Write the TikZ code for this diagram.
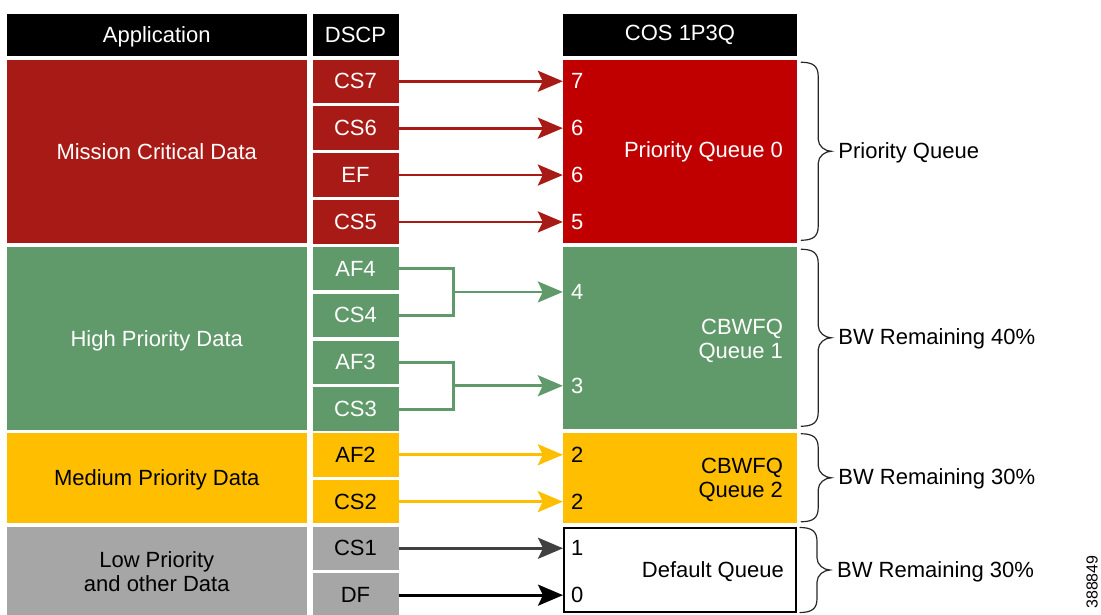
\documentclass[tikz,border=0pt]{standalone}
\usepackage{fontspec}
\setmainfont{Liberation Sans}
\usepackage{xcolor}
\usetikzlibrary{arrows.meta,positioning,calc}

\definecolor{AppRed}{RGB}{168,26,22}
\definecolor{QueueRed}{RGB}{192,0,0}
\definecolor{PrioGreen}{RGB}{96,153,106}
\definecolor{MedYellow}{RGB}{255,191,0}
\definecolor{LowGrey}{RGB}{166,166,166}
\definecolor{ArrowGrey}{RGB}{64,64,64}

\tikzset{
  base/.style={
    inner sep=0pt,
    align=center,
    font=\fontsize{22}{24}\selectfont
  },
  header/.style={
    base,
    fill=black,
    text=white,
    minimum height=42.5pt
  },
  appbox/.style={
    base,
    minimum width=300.5pt
  },
  cell/.style={
    base,
    minimum width=86pt,
    minimum height=43.5pt
  },
  queue/.style={
    base,
    minimum width=234pt
  },
  numlabel/.style={
    base,
    anchor=west,
    inner xsep=8pt
  },
  qname/.style={
    base,
    align=right,
    anchor=east
  },
  bracelabel/.style={base, anchor=west, yshift=-1.5pt},
  flow/.style={-{Stealth[length=25pt,width=21pt,inset=5pt]}, line width=2.8pt},
  bracket/.style={line width=2.8pt},
  pics/qbrace/.style={code={
    \draw[line width=1.2pt, line cap=round, draw=black!85]
      (0,#1) .. controls (12,#1) and (17,#1-4) .. (17,#1-14)
      -- (17,12) .. controls (17,5) and (24,0) .. (30,0)
      .. controls (24,0) and (17,-5) .. (17,-12)
      -- (17,14-#1) .. controls (17,4-#1) and (12,-#1) .. (0,-#1);
    \coordinate (-tip) at (30,0);
  }}
}

\begin{document}
\begin{tikzpicture}[x=1pt,y=1pt,node distance=3pt]
\useasboundingbox (0,0) rectangle (1101,-614);

% headers
\node[header, text depth=0pt, minimum width=300.5pt] (apphead) at (156.75,-34.75) {Application};
\node[header, minimum width=86pt] (dscphead) at (355.5,-34.75) {DSCP};
\node[header, minimum width=234pt] (coshead) at (680,-34.75) {COS 1P3Q};

% application classes
\node[appbox, fill=AppRed, text=white, minimum height=183.5pt] (mission) at (156.75,-151.25) {Mission Critical Data};
\node[appbox, fill=PrioGreen, text=white, text depth=0pt, minimum height=182.5pt] (high) at (156.75,-338.25) {High Priority Data};
\node[appbox, fill=MedYellow, text depth=0pt, minimum height=90pt] (medium) at (156.75,-478) {Medium Priority Data};
\node[appbox, fill=LowGrey, minimum height=90pt] (low) at (156.75,-571.5) {Low Priority\\and other Data};

% dscp values
\node[cell, fill=AppRed, text=white] (cs7) at (355.5,-81.25) {CS7};
\node[cell, fill=AppRed, text=white, below=of cs7] (cs6) {CS6};
\node[cell, fill=AppRed, text=white, below=of cs6] (ef) {EF};
\node[cell, fill=AppRed, text=white, below=of ef] (cs5) {CS5};
\node[cell, fill=PrioGreen, text=white] (af4) at (355.5,-268.5) {AF4};
\node[cell, fill=PrioGreen, text=white, below=of af4] (cs4) {CS4};
\node[cell, fill=PrioGreen, text=white, below=of cs4] (af3) {AF3};
\node[cell, fill=PrioGreen, text=white, below=of af3] (cs3) {CS3};
\node[cell, fill=MedYellow] (af2) at (355.5,-454.75) {AF2};
\node[cell, fill=MedYellow, below=of af2] (cs2) {CS2};
\node[cell, fill=LowGrey] (cs1) at (355.5,-548.25) {CS1};
\node[cell, fill=LowGrey, below=of cs1] (df) {DF};

% queues
\node[queue, fill=QueueRed, minimum height=183.5pt] (q0) at (680,-151.25) {};
\node[queue, fill=PrioGreen, minimum height=181.5pt] (q1) at (680,-337.75) {};
\node[queue, fill=MedYellow, minimum height=89.5pt] (q2) at (680,-477.75) {};
\node[queue, draw=black, line width=2pt, minimum width=232pt, minimum height=84pt] (qd) at (680,-570) {};

\node[qname, text=white] (q0name) at ($(q0.east)+(-14,-1)$) {Priority Queue 0};
\node[qname, text=white] (q1name) at ($(q1.east)+(-14,-3.5)$) {CBWFQ\\Queue 1};
\node[qname] (q2name) at ($(q2.east)+(-14,-2.5)$) {CBWFQ\\Queue 2};
\node[qname] (qdname) at ($(qd.east)+(-13,-1.5)$) {Default Queue};

% cos values
\node[numlabel, text=white] (n7) at (cs7 -| q0.west) {7};
\node[numlabel, text=white] (n6a) at (cs6 -| q0.west) {6};
\node[numlabel, text=white] (n6b) at (ef -| q0.west) {6};
\node[numlabel, text=white] (n5) at (cs5 -| q0.west) {5};
\coordinate (j4) at ($($(af4.east)!0.5!(cs4.east)$)+(54.5,0)$);
\coordinate (j3) at ($($(af3.east)!0.5!(cs3.east)$)+(54.5,0)$);
\node[numlabel, text=white] (n4) at (j4 -| q1.west) {4};
\node[numlabel, text=white] (n3) at (j3 -| q1.west) {3};
\node[numlabel] (n2a) at (af2 -| q2.west) {2};
\node[numlabel] (n2b) at (cs2 -| q2.west) {2};
\node[numlabel] (n1) at (cs1 -| qd.west) {1};
\node[numlabel] (n0) at (df -| qd.west) {0};

% mappings
\draw[flow, AppRed] (cs7) -- (n7);
\draw[flow, AppRed] (cs6) -- (n6a);
\draw[flow, AppRed] (ef) -- (n6b);
\draw[flow, AppRed] (cs5) -- (n5);
\draw[bracket, PrioGreen] (af4.east) -| (j4) |- (cs4.east);
\draw[bracket, PrioGreen] (af3.east) -| (j3) |- (cs3.east);
\draw[flow, PrioGreen] (j4) -- (n4);
\draw[flow, PrioGreen] (j3) -- (n3);
\draw[flow, MedYellow] (af2) -- (n2a);
\draw[flow, MedYellow] (cs2) -- (n2b);
\draw[flow, ArrowGrey] (cs1) -- (n1);
\draw[flow, black] (df) -- (n0);

% braces
\pic (b0) at ($(q0.east)+(4,0)$) {qbrace=89};
\pic (b1) at ($(q1.east)+(4,0)$) {qbrace=88.5};
\pic (b2) at ($(q2.east)+(4,0)$) {qbrace=44};
\pic (bd) at ($(qd.east)+(3,0)$) {qbrace=42.5};
\node[bracelabel, right=7pt of b0-tip] (l0) {Priority Queue};
\node[bracelabel, right=7pt of b1-tip] (l1) {BW Remaining 40\%};
\node[bracelabel, right=7pt of b2-tip] (l2) {BW Remaining 30\%};
\node[bracelabel, right=7pt of bd-tip] (ld) {BW Remaining 30\%};

\node[base, rotate=90, font=\fontsize{16}{16}\selectfont] (figid) at (1092,-582) {388849};
\end{tikzpicture}
\end{document}
